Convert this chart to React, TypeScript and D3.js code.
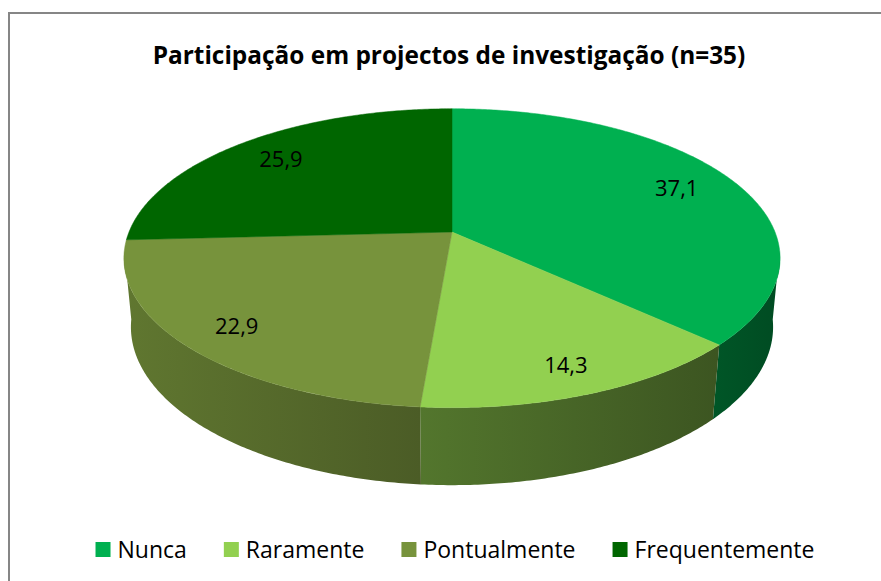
import React, { useEffect, useRef } from 'react';
import * as d3 from 'd3';

const title = 'Participação em projectos de investigação (n=35)';
const categories = ['Nunca', 'Raramente', 'Pontualmente', 'Frequentemente'];
const values = [37.1, 14.3, 22.9, 25.9];
const valueLabels = ['37,1', '14,3', '22,9', '25,9'];

const topColors = ['#00b050', '#92d050', '#77933c', '#006600'];
// how much darker the side wall gets, left edge -> right edge
const wallShade: [number, number][] = [[2.0, 2.4], [1.6, 2.5], [0.6, 1.3], [1.5, 2.0]];

const W = 881;
const H = 581;
const FONT = "'Open Sans', 'Noto Sans', sans-serif";

const App: React.FC = () => {
  const ref = useRef<SVGSVGElement>(null);

  useEffect(() => {
    const svg = d3.select(ref.current);
    svg.selectAll('*').remove();

    // chart frame (runs off the right/bottom of the page)
    svg.append('rect')
      .attr('x', 9).attr('y', 13)
      .attr('width', 900).attr('height', 620)
      .attr('fill', '#fff')
      .attr('stroke', '#868686')
      .attr('stroke-width', 2);

    svg.append('text')
      .attr('x', 449)
      .attr('y', 64)
      .attr('text-anchor', 'middle')
      .attr('font-family', FONT)
      .attr('font-weight', 'bold')
      .attr('font-size', 24.4)
      .attr('fill', '#000')
      .text(title);

    // simple perspective camera for the tilted disc
    const cx = 452, cy = 232;
    const tilt = 0.465; // radians
    const sn = Math.sin(tilt), cs = Math.cos(tilt);
    const dist = 5.1;
    const focal = 323 * dist;
    const thick = 0.24;
    const proj = (a: number, r: number, h: number): [number, number] => {
      const X = r * Math.sin(a);
      const Z = r * Math.cos(a);
      const yc = h * cs + Z * sn;
      const depth = dist + Z * cs - h * sn;
      return [cx + focal * X / depth, cy - focal * yc / depth];
    };

    const arcs = d3.pie<number>().sort(null).value(d => d)(values);
    const line = d3.line();
    const step = 0.01;
    const arcPts = (a0: number, a1: number, h: number) => {
      const n = Math.max(2, Math.ceil(Math.abs(a1 - a0) / step));
      return d3.range(n + 1).map(i => proj(a0 + (a1 - a0) * i / n, 1, h));
    };

    const defs = svg.append('defs');
    const g = svg.append('g');

    // side walls (visible front part only)
    const lo = Math.PI * 0.54, hi = Math.PI * 1.46;
    arcs.forEach((d, i) => {
      const a0 = Math.max(d.startAngle, lo);
      const a1 = Math.min(d.endAngle, hi);
      if (a1 <= a0) return;
      const pts = [...arcPts(a0, a1, 0), ...arcPts(a1, a0, -thick)];
      const xs = pts.map(p => p[0]);
      const base = d3.color(topColors[i])!;
      const grad = defs.append('linearGradient')
        .attr('id', `wall-${i}`)
        .attr('gradientUnits', 'userSpaceOnUse')
        .attr('x1', d3.min(xs)!).attr('x2', d3.max(xs)!)
        .attr('y1', 0).attr('y2', 0);
      grad.append('stop').attr('offset', '0%').attr('stop-color', base.darker(wallShade[i][0]).formatHex());
      grad.append('stop').attr('offset', '100%').attr('stop-color', base.darker(wallShade[i][1]).formatHex());
      g.append('path')
        .attr('d', line(pts) + 'Z')
        .attr('fill', `url(#wall-${i})`);
    });

    // top surfaces
    arcs.forEach((d, i) => {
      const pts = [proj(0, 0, 0), ...arcPts(d.startAngle, d.endAngle, 0)];
      g.append('path')
        .attr('d', line(pts) + 'Z')
        .attr('fill', topColors[i])
        .attr('stroke', topColors[i])
        .attr('stroke-width', 0.5);
    });

    // value labels, pushed a little further out on the near side
    arcs.forEach((d, i) => {
      const mid = (d.startAngle + d.endAngle) / 2;
      const r = 0.8 + 0.05 * Math.max(0, -Math.cos(mid));
      const [x, y] = proj(mid, r, 0);
      g.append('text')
        .attr('x', x).attr('y', y)
        .attr('dy', '0.35em')
        .attr('text-anchor', 'middle')
        .attr('font-family', FONT)
        .attr('font-size', 22)
        .attr('fill', '#000')
        .text(valueLabels[i]);
    });

    // legend
    const legend = svg.append('g');
    let x = 0;
    categories.forEach((c, i) => {
      const item = legend.append('g').attr('transform', `translate(${x},0)`);
      item.append('rect')
        .attr('x', 0).attr('y', 542)
        .attr('width', 15).attr('height', 15)
        .attr('fill', topColors[i]);
      const t = item.append('text')
        .attr('x', 22).attr('y', 558)
        .attr('font-family', FONT)
        .attr('font-size', 23)
        .attr('fill', '#000')
        .text(c);
      const tw = (t.node() as SVGTextElement).getComputedTextLength();
      x += 22 + tw + 37;
    });
    const total = x - 37;
    legend.attr('transform', `translate(${455 - total / 2},0)`);
  }, []);

  return (
    <svg
      ref={ref}
      width={W}
      height={H}
      style={{ position: 'absolute', left: 0, top: 0, background: '#fff' }}
    />
  );
};

export default App;
